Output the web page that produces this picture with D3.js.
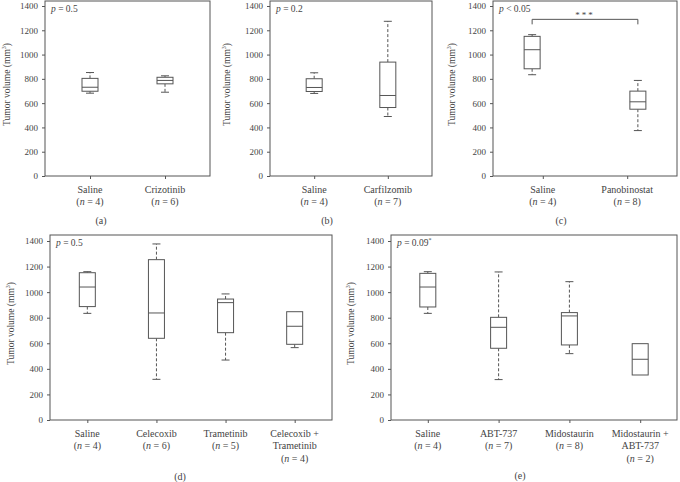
<!DOCTYPE html>
<html>
<head>
<meta charset="utf-8">
<script src="https://cdn.jsdelivr.net/npm/d3@7"></script>
<style>
  html, body { margin: 0; padding: 0; background: #fff; }
  svg { display: block; }
</style>
</head>
<body>
<svg id="chart" width="680" height="482"></svg>
<script>
// ---------------- DATA ----------------
const yTicks = [0, 200, 400, 600, 800, 1000, 1200, 1400];
const yLabel = "Tumor volume (mm";

// Panel (a)
const catsA = [["Saline"], ["Crizotinib"]];
const nA = [4, 6];
const minA = [682, 690];
const q1A = [698, 759];
const medA = [731, 787];
const q3A = [804, 813];
const maxA = [852, 825];

// Panel (b)
const catsB = [["Saline"], ["Carfilzomib"]];
const nB = [4, 7];
const minB = [680, 490];
const q1B = [696, 564];
const medB = [729, 663];
const q3B = [801, 938];
const maxB = [850, 1274];

// Panel (c)
const catsC = [["Saline"], ["Panobinostat"]];
const nC = [4, 8];
const minC = [834, 374];
const q1C = [883, 550];
const medC = [1040, 611];
const q3C = [1150, 699];
const maxC = [1164, 787];

// Panel (d)
const catsD = [["Saline"], ["Celecoxib"], ["Trametinib"], ["Celecoxib +", "Trametinib"]];
const nD = [4, 6, 5, 4];
const minD = [834, 318, 469, 566];
const q1D = [887, 639, 683, 592];
const medD = [1040, 837, 918, 733];
const q3D = [1152, 1254, 946, 847];
const maxD = [1160, 1377, 986, 847];

// Panel (e)
const catsE = [["Saline"], ["ABT-737"], ["Midostaurin"], ["Midostaurin +", "ABT-737"]];
const nE = [4, 7, 8, 2];
const minE = [834, 316, 519, 352];
const q1E = [884, 561, 587, 352];
const medE = [1040, 725, 814, 475];
const q3E = [1147, 803, 840, 597];
const maxE = [1160, 1158, 1082, 597];

// p-values / annotations
const pTexts = [["p", " = 0.5", ""], ["p", " = 0.2", ""], ["p", " < 0.05", ""], ["p", " = 0.5", ""], ["p", " = 0.09", "*"]];
const sigC = "***";
const sigLevelC = 1290;

// ---------------- LAYOUT ----------------
const FONT = "'Liberation Serif', 'DejaVu Serif', 'Times New Roman', serif";
const TXT = "#444";
const panels = [
  { cats: catsA, n: nA, mn: minA, q1: q1A, md: medA, q3: q3A, mx: maxA, l: 45, r: 210, t: 1, b: 176, ytop: 6, pad: 0.6, lab: "(a)", labX: 101, labY: 224, yLabX: 10, p: pTexts[0] },
  { cats: catsB, n: nB, mn: minB, q1: q1B, md: medB, q3: q3B, mx: maxB, l: 270, r: 432, t: 1, b: 176, ytop: 6, pad: 0.6, lab: "(b)", labX: 327, labY: 224, yLabX: 230, p: pTexts[1] },
  { cats: catsC, n: nC, mn: minC, q1: q1C, md: medC, q3: q3C, mx: maxC, l: 493, r: 677, t: 1, b: 176, ytop: 6, pad: 0.59, boxPad: 0.37, lab: "(c)", labX: 561, labY: 224, yLabX: 455, p: pTexts[2], sig: true },
  { cats: catsD, n: nD, mn: minD, q1: q1D, md: medD, q3: q3D, mx: maxD, l: 50, r: 332, t: 235, b: 420, ytop: 241, pad: 0.54, lab: "(d)", labX: 180, labY: 480, yLabX: 14, p: pTexts[3] },
  { cats: catsE, n: nE, mn: minE, q1: q1E, md: medE, q3: q3E, mx: maxE, l: 391, r: 677, t: 235, b: 420, ytop: 241, pad: 0.52, lab: "(e)", labX: 520, labY: 479, yLabX: 354, p: pTexts[4] }
];

const svg = d3.select("#chart");
const lineColor = "#555";
const boxW = 16, capW = 8;

function txt(sel) {
  return sel.attr("font-family", FONT).style("font-family", FONT).attr("fill", TXT).style("fill", TXT);
}

panels.forEach(P => {
  const g = svg.append("g");
  const y = d3.scaleLinear().domain([0, 1400]).range([P.b, P.ytop]);
  const idx = P.cats.map((c, i) => i);
  const x = d3.scalePoint().domain(idx).range([P.l, P.r]).padding(P.pad);
  const xb = P.boxPad != null
    ? d3.scalePoint().domain(idx).range([P.l, P.r]).padding(P.boxPad)
    : x;

  // frame
  g.append("rect").attr("x", P.l).attr("y", P.t).attr("width", P.r - P.l).attr("height", P.b - P.t)
    .attr("fill", "none").attr("stroke", lineColor).attr("stroke-width", 1);

  // y axis
  const ya = g.append("g").attr("transform", `translate(${P.l},0)`)
    .call(d3.axisLeft(y).tickValues(yTicks).tickSize(3).tickPadding(4).tickFormat(d3.format("d")));
  ya.attr("font-family", FONT).attr("font-size", 9);
  ya.select(".domain").remove();
  ya.selectAll("line").attr("stroke", lineColor);
  txt(ya.selectAll("text")).attr("font-size", 9);

  // x axis ticks
  const xa = g.append("g").attr("transform", `translate(0,${P.b})`)
    .call(d3.axisBottom(x).tickSize(3).tickFormat(""));
  xa.select(".domain").remove();
  xa.selectAll("line").attr("stroke", lineColor);

  // x labels
  idx.forEach(i => {
    const lines = P.cats[i].slice();
    const t = txt(g.append("text")).attr("text-anchor", "middle").attr("font-size", 10);
    lines.forEach((s, k) => {
      t.append("tspan").attr("x", x(i)).attr("y", P.b + 17 + k * 12.3).text(s);
    });
    const nt = t.append("tspan").attr("x", x(i)).attr("y", P.b + 17 + lines.length * 12.3);
    nt.text("(");
    t.append("tspan").attr("font-style", "italic").text("n");
    t.append("tspan").text(" = " + P.n[i] + ")");
  });

  // y label
  const yl = txt(g.append("text")).attr("text-anchor", "middle").attr("font-size", 9.5)
    .attr("transform", `translate(${P.yLabX},${(P.t + P.b) / 2 - 4}) rotate(-90)`);
  yl.append("tspan").text(yLabel);
  yl.append("tspan").attr("font-size", 6).attr("dy", -4).text("3");
  yl.append("tspan").attr("dy", 4).text(")");

  // panel label
  txt(g.append("text")).attr("x", P.labX).attr("y", P.labY).attr("text-anchor", "middle").attr("font-size", 10).text(P.lab);

  // p-value
  const pt = txt(g.append("text")).attr("x", P.l + 6).attr("y", P.t + 11).attr("font-size", 9.5);
  pt.append("tspan").attr("font-style", "italic").text(P.p[0]);
  pt.append("tspan").text(P.p[1]);
  if (P.p[2]) pt.append("tspan").attr("font-size", 6).attr("dy", -4).text(P.p[2]);

  // boxes
  idx.forEach(i => {
    const cx = xb(i);
    const bg = g.append("g").attr("stroke", lineColor).attr("fill", "none").attr("stroke-width", 1);
    if (P.mx[i] > P.q3[i]) {
      bg.append("line").attr("x1", cx).attr("x2", cx).attr("y1", y(P.q3[i])).attr("y2", y(P.mx[i])).attr("stroke-dasharray", "3,2");
      bg.append("line").attr("x1", cx - capW / 2).attr("x2", cx + capW / 2).attr("y1", y(P.mx[i])).attr("y2", y(P.mx[i]));
    }
    if (P.mn[i] < P.q1[i]) {
      bg.append("line").attr("x1", cx).attr("x2", cx).attr("y1", y(P.q1[i])).attr("y2", y(P.mn[i])).attr("stroke-dasharray", "3,2");
      bg.append("line").attr("x1", cx - capW / 2).attr("x2", cx + capW / 2).attr("y1", y(P.mn[i])).attr("y2", y(P.mn[i]));
    }
    bg.append("rect").attr("x", cx - boxW / 2).attr("y", y(P.q3[i])).attr("width", boxW)
      .attr("height", y(P.q1[i]) - y(P.q3[i])).attr("fill", "#fff");
    bg.append("line").attr("x1", cx - boxW / 2).attr("x2", cx + boxW / 2).attr("y1", y(P.md[i])).attr("y2", y(P.md[i]));
  });

  // significance bracket
  if (P.sig) {
    const x1 = xb(0), x2 = xb(1), yy = y(sigLevelC);
    g.append("path").attr("d", `M${x1},${yy + 5}V${yy}H${x2}V${yy + 5}`)
      .attr("fill", "none").attr("stroke", lineColor);
    txt(g.append("text")).attr("x", (x1 + x2) / 2).attr("y", yy - 1).attr("text-anchor", "middle")
      .attr("font-size", 9).attr("letter-spacing", 2).text(sigC);
  }
});
</script>
</body>
</html>
